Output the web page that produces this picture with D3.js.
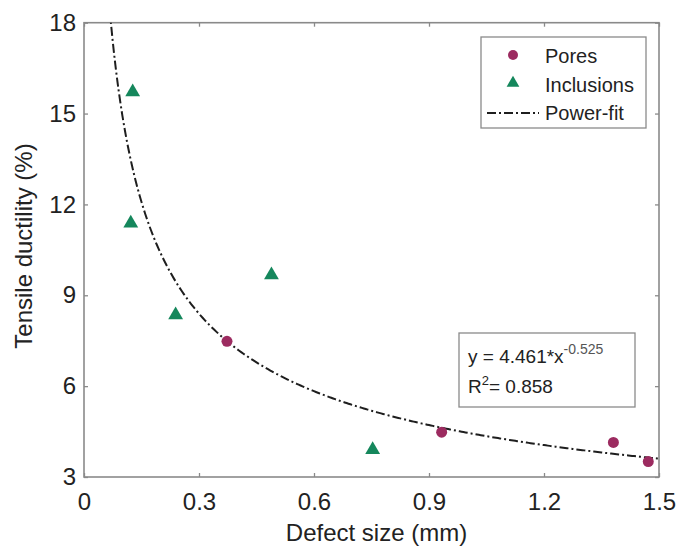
<!DOCTYPE html>
<html>
<head>
<meta charset="utf-8">
<script src="https://cdn.jsdelivr.net/npm/d3@7"></script>
<style>
  body { margin: 0; background: #fff; }
  text { font-family: "Liberation Sans", Arial, sans-serif; fill: #222; }
</style>
</head>
<body>
<div id="chart"></div>
<script>
// Données
var poresX = [0.373, 0.933, 1.381, 1.472]
var poresY = [7.48, 4.48, 4.14, 3.51]
var inclX = [0.127, 0.122, 0.239, 0.489, 0.753]
var inclY = [15.71, 11.38, 8.35, 9.67, 3.90]
var xTicks = [0, 0.3, 0.6, 0.9, 1.2, 1.5]
var yTicks = [3, 6, 9, 12, 15, 18]
// Coefficients du power-fit affiché sur la figure
var fitA = 4.461
var fitB = -0.525
var fitR2 = 0.858

var W = 681, H = 547
var pL = 84, pR = 659, pT = 22.7, pB = 477

const svg = d3.select("#chart").append("svg")
  .attr("width", W).attr("height", H)

const x = d3.scaleLinear().domain([0, 1.5]).range([pL, pR])
const y = d3.scaleLinear().domain([3, 18]).range([pB, pT])

const axisCol = "#8a8a8a"

// Cadre
svg.append("rect")
  .attr("x", pL).attr("y", pT)
  .attr("width", pR - pL).attr("height", pB - pT)
  .attr("fill", "none").attr("stroke", axisCol).attr("stroke-width", 1.6)

// Axes avec ticks vers l'intérieur
const xAx = svg.append("g").attr("transform", "translate(0," + pB + ")")
  .call(d3.axisBottom(x).tickValues(xTicks).tickSizeInner(-4).tickSizeOuter(0)
    .tickPadding(10).tickFormat(d => d === 0 ? "0" : d3.format(".1f")(d)))
const yAx = svg.append("g").attr("transform", "translate(" + pL + ",0)")
  .call(d3.axisLeft(y).tickValues(yTicks).tickSizeInner(-4).tickSizeOuter(0)
    .tickPadding(8))
const xTop = svg.append("g").attr("transform", "translate(0," + pT + ")")
  .call(d3.axisTop(x).tickValues(xTicks).tickSizeInner(-4).tickSizeOuter(0).tickFormat(""))
const yRight = svg.append("g").attr("transform", "translate(" + pR + ",0)")
  .call(d3.axisRight(y).tickValues(yTicks).tickSizeInner(-4).tickSizeOuter(0).tickFormat(""))

;[xAx, yAx, xTop, yRight].forEach(g => {
  g.select(".domain").remove()
  g.selectAll("line").attr("stroke", axisCol).attr("stroke-width", 1.3)
  g.selectAll("text").style("font-size", "24px").attr("fill", "#222")
})
xAx.selectAll("text").attr("dy", "0.71em").attr("y", 16)

// Titres des axes
svg.append("text")
  .attr("x", (pL + pR) / 2 + 5).attr("y", 541)
  .attr("text-anchor", "middle")
  .style("font-size", "24px")
  .text("Defect size (mm)")
svg.append("text")
  .attr("transform", "translate(32,246) rotate(-90)")
  .attr("text-anchor", "middle")
  .style("font-size", "24px")
  .text("Tensile ductility (%)")

// Courbe power-fit
svg.append("clipPath").attr("id", "clip")
  .append("rect").attr("x", pL).attr("y", pT)
  .attr("width", pR - pL).attr("height", pB - pT)
const fitX = d3.range(0.06, 1.5001, 0.005)
svg.append("path")
  .datum(fitX)
  .attr("clip-path", "url(#clip)")
  .attr("fill", "none")
  .attr("stroke", "#1e1e1e")
  .attr("stroke-width", 2)
  .attr("stroke-dasharray", "9,3,2,3")
  .attr("d", d3.line().x(d => x(d)).y(d => y(fitA * Math.pow(d, fitB))))

const poreCol = "#9c2b60"
const inclCol = "#15875c"
const tri = d3.symbol().type(d3.symbolTriangle).size(95)

// Points
svg.selectAll("circle.pore")
  .data(poresX)
  .join("circle")
    .attr("class", "pore")
    .attr("cx", d => x(d))
    .attr("cy", (d, i) => y(poresY[i]))
    .attr("r", 5.5)
    .attr("fill", poreCol)
svg.selectAll("path.incl")
  .data(inclX)
  .join("path")
    .attr("class", "incl")
    .attr("d", tri)
    .attr("transform", (d, i) => "translate(" + x(d) + "," + y(inclY[i]) + ")")
    .attr("fill", inclCol)

// Légende
const leg = svg.append("g")
leg.append("rect")
  .attr("x", 481).attr("y", 37).attr("width", 165).attr("height", 91)
  .attr("fill", "#fff").attr("stroke", axisCol).attr("stroke-width", 1.3)
leg.append("circle").attr("cx", 513).attr("cy", 55).attr("r", 5).attr("fill", poreCol)
leg.append("path").attr("d", d3.symbol().type(d3.symbolTriangle).size(70))
  .attr("transform", "translate(513,83)").attr("fill", inclCol)
leg.append("line").attr("x1", 487).attr("x2", 539).attr("y1", 113).attr("y2", 113)
  .attr("stroke", "#1e1e1e").attr("stroke-width", 2).attr("stroke-dasharray", "9,3,2,3")
var legLabels = ["Pores", "Inclusions", "Power-fit"]
leg.selectAll("text.lab")
  .data(legLabels)
  .join("text")
    .attr("class", "lab")
    .attr("x", 545)
    .attr("y", (d, i) => [63, 92, 120][i])
    .style("font-size", "20px")
    .text(d => d)

// Encadré de l'équation
const eq = svg.append("g")
eq.append("rect")
  .attr("x", 459).attr("y", 333).attr("width", 176).attr("height", 74)
  .attr("fill", "#fff").attr("stroke", axisCol).attr("stroke-width", 1.3)
const t1 = eq.append("text").attr("x", 468).attr("y", 363).style("font-size", "19px")
t1.append("tspan").text("y = " + fitA + "*x")
t1.append("tspan").attr("dy", -9).style("font-size", "14px").attr("fill", "#555").text(fitB)
const t2 = eq.append("text").attr("x", 468).attr("y", 393).style("font-size", "19px")
t2.append("tspan").text("R")
t2.append("tspan").attr("dy", -8).style("font-size", "13px").text("2")
t2.append("tspan").attr("dy", 8).text("= " + fitR2)
</script>
</body>
</html>
